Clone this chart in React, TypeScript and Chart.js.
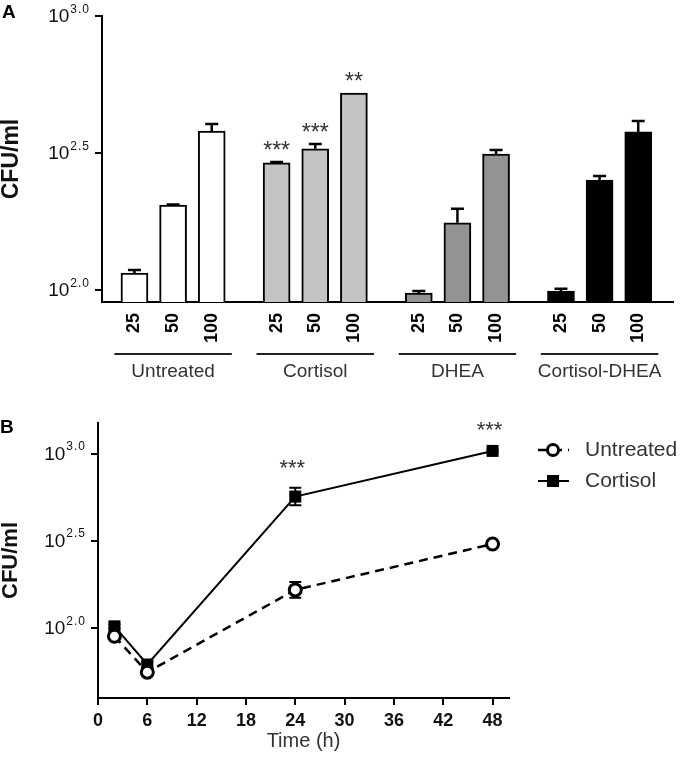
import React, { useEffect, useRef } from 'react';
import { Chart, registerables } from 'chart.js';

Chart.register(...registerables);

const FONT = '"Liberation Sans", Arial, Helvetica, sans-serif';

// ---------- Panel A data (log10 CFU/ml) ----------
const GROUPS = ['Untreated', 'Cortisol', 'DHEA', 'Cortisol-DHEA'];
const DOSES = ['25', '50', '100'];
const UNTREATED_A = [2.062, 2.31, 2.58];
const CORTISOL_A = [2.464, 2.515, 2.719];
const DHEA_A = [1.989, 2.245, 2.496];
const COMBO_A = [1.996, 2.401, 2.577];
const UNTREATED_A_ERR = [0.011, 0.002, 0.026];
const CORTISOL_A_ERR = [0.003, 0.018, 0.0];
const DHEA_A_ERR = [0.007, 0.051, 0.015];
const COMBO_A_ERR = [0.008, 0.015, 0.04];
const UNTREATED_A_STARS = ['', '', ''];
const CORTISOL_A_STARS = ['***', '***', '**'];
const DHEA_A_STARS = ['', '', ''];
const COMBO_A_STARS = ['', '', ''];
const Y_TICKS_A = [2.0, 2.5, 3.0];

// ---------- Panel B data (log10 CFU/ml) ----------
const TIME_H = [2, 6, 24, 48];
const UNTREATED_B = [1.954, 1.748, 2.22, 2.483];
const UNTREATED_B_ERR = [0.01, 0.01, 0.045, 0.01];
const CORTISOL_B = [2.011, 1.792, 2.755, 3.017];
const CORTISOL_B_ERR = [0.012, 0.015, 0.05, 0.008];
const CORTISOL_B_STARS = ['', '', '***', '***'];
const UNTREATED_B_STARS = ['', '', '', ''];
const X_TICKS_B = [0, 6, 12, 18, 24, 30, 36, 42, 48];
const Y_TICKS_B = [2.0, 2.5, 3.0];

const GROUP_STEP = 3.68; // spacing between group starts, in bar slots

function drawPow(ctx: CanvasRenderingContext2D, xRight: number, y: number, exp: string, baseSize: number, supSize: number, rise: number) {
  ctx.save();
  ctx.fillStyle = '#111';
  ctx.textBaseline = 'middle';
  ctx.textAlign = 'left';
  (ctx as any).letterSpacing = '1px';
  ctx.font = `${supSize}px ${FONT}`;
  const supW = ctx.measureText(exp).width;
  (ctx as any).letterSpacing = '0px';
  ctx.font = `${baseSize}px ${FONT}`;
  const baseW = ctx.measureText('10').width;
  const x0 = xRight - supW - baseW - 1;
  ctx.fillText('10', x0, y + 1);
  (ctx as any).letterSpacing = '1px';
  ctx.font = `${supSize}px ${FONT}`;
  ctx.fillText(exp, x0 + baseW + 1, y - rise);
  ctx.restore();
}

function drawErrBar(ctx: CanvasRenderingContext2D, x: number, y1: number, y2: number, cap: number, lw: number) {
  ctx.save();
  ctx.strokeStyle = '#000';
  ctx.lineWidth = lw;
  ctx.beginPath();
  ctx.moveTo(x, y1);
  ctx.lineTo(x, y2);
  ctx.moveTo(x - cap / 2, y2);
  ctx.lineTo(x + cap / 2, y2);
  ctx.stroke();
  ctx.restore();
}

function makeConfigA(): any {
  const values = [UNTREATED_A, CORTISOL_A, DHEA_A, COMBO_A];
  const errs = [UNTREATED_A_ERR, CORTISOL_A_ERR, DHEA_A_ERR, COMBO_A_ERR];
  const stars = [UNTREATED_A_STARS, CORTISOL_A_STARS, DHEA_A_STARS, COMBO_A_STARS];
  const fills = ['#ffffff', '#c4c4c4', '#939393', '#000000'];
  const positions: number[] = [];
  GROUPS.forEach((_, gi) => DOSES.forEach((__, di) => positions.push(gi * GROUP_STEP + di)));

  const panelPlugin = {
    id: 'panelA',
    afterDatasetsDraw(chart: any) {
      const ctx = chart.ctx as CanvasRenderingContext2D;
      const y = chart.scales.y;
      chart.data.datasets.forEach((ds: any, i: number) => {
        const meta = chart.getDatasetMeta(i);
        meta.data.forEach((el: any, j: number) => {
          const v = ds.data[j].y;
          const e = ds.errors[j];
          const yTop = y.getPixelForValue(v + e);
          if (e > 0) drawErrBar(ctx, el.x, el.y, yTop, 13, 2.5);
          const s = ds.stars[j];
          if (s) {
            ctx.save();
            ctx.font = `23px ${FONT}`;
            ctx.fillStyle = '#333';
            ctx.textAlign = 'center';
            ctx.textBaseline = 'alphabetic';
            ctx.fillText(s, el.x, Math.min(yTop, el.y) - 4);
            ctx.restore();
          }
        });
      });
    },
    afterDraw(chart: any) {
      const ctx = chart.ctx as CanvasRenderingContext2D;
      const xs = chart.scales.x;
      const ys = chart.scales.y;
      const area = chart.chartArea;
      // y tick labels with superscript exponent
      ys.ticks.forEach((t: any) => {
        drawPow(ctx, area.left - 12, ys.getPixelForValue(t.value), t.value.toFixed(1), 19, 12, 6);
      });
      // group brackets and names
      GROUPS.forEach((g, gi) => {
        const c = gi * GROUP_STEP + 1;
        const x1 = xs.getPixelForValue(c - 1.52);
        const x2 = xs.getPixelForValue(c + 1.52);
        ctx.save();
        ctx.strokeStyle = '#222';
        ctx.lineWidth = 2;
        ctx.beginPath();
        ctx.moveTo(x1, area.bottom + 52);
        ctx.lineTo(x2, area.bottom + 52);
        ctx.stroke();
        ctx.font = `19px ${FONT}`;
        ctx.fillStyle = '#333';
        ctx.textAlign = 'center';
        ctx.textBaseline = 'middle';
        ctx.fillText(g, xs.getPixelForValue(c), area.bottom + 70);
        ctx.restore();
      });
      // panel letter
      ctx.save();
      ctx.font = `bold 19px ${FONT}`;
      ctx.fillStyle = '#000';
      ctx.textBaseline = 'top';
      ctx.textAlign = 'left';
      ctx.fillText('A', 2, 3);
      ctx.restore();
    },
  };

  return {
    type: 'bar',
    data: {
      datasets: GROUPS.map((g, gi) => ({
        label: g,
        data: values[gi].map((v, di) => ({ x: gi * GROUP_STEP + di, y: v })),
        backgroundColor: fills[gi],
        borderColor: '#000',
        borderWidth: 2,
        borderSkipped: false,
        barThickness: 27,
        grouped: false,
        errors: errs[gi],
        stars: stars[gi],
      })),
    },
    options: {
      responsive: false,
      animation: false,
      events: [],
      devicePixelRatio: 1,
      layout: { padding: { left: 0, right: 7, top: 16, bottom: 0 } },
      plugins: { legend: { display: false }, tooltip: { enabled: false } },
      scales: {
        x: {
          type: 'linear',
          offset: false,
          min: -0.84,
          max: 13.94,
          afterBuildTicks: (s: any) => {
            s.ticks = positions.map((v) => ({ value: v }));
          },
          afterFit: (s: any) => {
            s.height = 118;
          },
          ticks: {
            autoSkip: false,
            minRotation: 90,
            maxRotation: 90,
            padding: 11,
            color: '#000',
            font: { family: FONT, size: 18, weight: 'bold' },
            callback: (_v: any, i: number) => DOSES[i % DOSES.length],
          },
          grid: { display: false, drawTicks: false, offset: false },
          border: { display: true, color: '#000', width: 2 },
        },
        y: {
          type: 'linear',
          min: 1.956,
          max: 3.0,
          afterBuildTicks: (s: any) => {
            s.ticks = Y_TICKS_A.map((v) => ({ value: v }));
          },
          afterFit: (s: any) => {
            s.width = 102;
          },
          ticks: { display: false },
          grid: { drawOnChartArea: false, drawTicks: true, tickLength: 7, color: '#000', lineWidth: 2 },
          border: { display: true, color: '#000', width: 2 },
          title: {
            display: true,
            text: 'CFU/ml',
            color: '#111',
            font: { family: FONT, size: 23, weight: 'bold', lineHeight: 1 },
            padding: { top: 0, bottom: 0 },
          },
        },
      },
    },
    plugins: [panelPlugin],
  };
}

function makeConfigB(): any {
  const panelPlugin = {
    id: 'panelB',
    beforeDatasetsDraw(chart: any) {
      const ctx = chart.ctx as CanvasRenderingContext2D;
      const ys = chart.scales.y;
      chart.data.datasets.forEach((ds: any, i: number) => {
        const meta = chart.getDatasetMeta(i);
        meta.data.forEach((el: any, j: number) => {
          const v = ds.data[j].y;
          const e = ds.errors[j];
          if (e <= 0) return;
          const yT = ys.getPixelForValue(v + e);
          const yB = ys.getPixelForValue(v - e);
          drawErrBar(ctx, el.x, el.y, yT, 12, 2);
          drawErrBar(ctx, el.x, el.y, yB, 12, 2);
        });
      });
    },
    afterDraw(chart: any) {
      const ctx = chart.ctx as CanvasRenderingContext2D;
      const ys = chart.scales.y;
      const area = chart.chartArea;
      ys.ticks.forEach((t: any) => {
        drawPow(ctx, area.left - 12, ys.getPixelForValue(t.value), t.value.toFixed(1), 19, 12, 7);
      });
      // stars
      chart.data.datasets.forEach((ds: any, i: number) => {
        const meta = chart.getDatasetMeta(i);
        meta.data.forEach((el: any, j: number) => {
          const s = ds.stars[j];
          if (!s) return;
          const yT = ys.getPixelForValue(ds.data[j].y + ds.errors[j]);
          ctx.save();
          ctx.font = `22px ${FONT}`;
          ctx.fillStyle = '#333';
          ctx.textAlign = 'center';
          ctx.textBaseline = 'alphabetic';
          ctx.fillText(s, el.x - 3, yT - 13);
          ctx.restore();
        });
      });
      // legend
      chart.data.datasets.forEach((ds: any, i: number) => {
        const cy = 40 + 31 * i;
        const x1 = 538;
        const x2 = 569;
        const mx = 553;
        ctx.save();
        ctx.strokeStyle = '#000';
        ctx.lineWidth = ds.borderWidth;
        ctx.setLineDash(ds.borderDash || []);
        ctx.beginPath();
        ctx.moveTo(x1, cy);
        ctx.lineTo(x2, cy);
        ctx.stroke();
        ctx.setLineDash([]);
        if (ds.pointStyle === 'circle') {
          ctx.fillStyle = '#fff';
          ctx.lineWidth = 3;
          ctx.beginPath();
          ctx.arc(mx, cy, 5.5, 0, Math.PI * 2);
          ctx.fill();
          ctx.stroke();
        } else {
          ctx.fillStyle = '#000';
          ctx.fillRect(mx - 6, cy - 6, 12, 12);
        }
        ctx.font = `21px ${FONT}`;
        ctx.fillStyle = '#333';
        ctx.textAlign = 'left';
        ctx.textBaseline = 'middle';
        ctx.fillText(ds.label, 585, cy);
        ctx.restore();
      });
      ctx.save();
      ctx.font = `bold 19px ${FONT}`;
      ctx.fillStyle = '#000';
      ctx.textBaseline = 'top';
      ctx.textAlign = 'left';
      ctx.fillText('B', 0, 8);
      ctx.restore();
    },
  };

  return {
    type: 'line',
    data: {
      datasets: [
        {
          label: 'Untreated',
          data: TIME_H.map((t, i) => ({ x: t, y: UNTREATED_B[i] })),
          errors: UNTREATED_B_ERR,
          stars: UNTREATED_B_STARS,
          borderColor: '#000',
          borderWidth: 2.5,
          borderDash: [9, 6],
          pointStyle: 'circle',
          pointRadius: 6,
          pointBorderWidth: 3,
          pointBackgroundColor: '#fff',
          pointBorderColor: '#000',
          tension: 0,
          fill: false,
        },
        {
          label: 'Cortisol',
          data: TIME_H.map((t, i) => ({ x: t, y: CORTISOL_B[i] })),
          errors: CORTISOL_B_ERR,
          stars: CORTISOL_B_STARS,
          borderColor: '#000',
          borderWidth: 2,
          pointStyle: 'rect',
          pointRadius: 8.5,
          pointBorderWidth: 0,
          pointBackgroundColor: '#000',
          pointBorderColor: '#000',
          tension: 0,
          fill: false,
        },
      ],
    },
    options: {
      responsive: false,
      animation: false,
      events: [],
      devicePixelRatio: 1,
      layout: { padding: { left: 0, right: 171, top: 13, bottom: 0 } },
      plugins: { legend: { display: false }, tooltip: { enabled: false } },
      scales: {
        x: {
          type: 'linear',
          min: 0,
          max: 50,
          afterBuildTicks: (s: any) => {
            s.ticks = X_TICKS_B.map((v) => ({ value: v }));
          },
          afterFit: (s: any) => {
            s.height = 64;
          },
          ticks: {
            autoSkip: false,
            maxRotation: 0,
            padding: 5,
            color: '#111',
            font: { family: FONT, size: 18, weight: 'bold' },
          },
          grid: { drawOnChartArea: false, drawTicks: true, tickLength: 7, color: '#000', lineWidth: 2 },
          border: { display: true, color: '#000', width: 2 },
          title: {
            display: true,
            text: 'Time (h)',
            color: '#333',
            font: { family: FONT, size: 20, lineHeight: 1 },
            padding: { top: 0, bottom: 11 },
          },
        },
        y: {
          type: 'linear',
          min: 1.6,
          max: 3.177,
          afterBuildTicks: (s: any) => {
            s.ticks = Y_TICKS_B.map((v) => ({ value: v }));
          },
          afterFit: (s: any) => {
            s.width = 98;
          },
          ticks: { display: false },
          grid: { drawOnChartArea: false, drawTicks: true, tickLength: 7, color: '#000', lineWidth: 2 },
          border: { display: true, color: '#000', width: 2 },
          title: {
            display: true,
            text: 'CFU/ml',
            color: '#111',
            font: { family: FONT, size: 22, weight: 'bold', lineHeight: 1 },
            padding: { top: 0, bottom: 0 },
          },
        },
      },
    },
    plugins: [panelPlugin],
  };
}

export default function App() {
  const refA = useRef<HTMLCanvasElement>(null);
  const refB = useRef<HTMLCanvasElement>(null);
  useEffect(() => {
    const a = new Chart(refA.current as HTMLCanvasElement, makeConfigA());
    const b = new Chart(refB.current as HTMLCanvasElement, makeConfigB());
    return () => {
      a.destroy();
      b.destroy();
    };
  }, []);
  return (
    <div style={{ position: 'absolute', left: 0, top: 0, width: 680, height: 762, background: '#fff' }}>
      <canvas ref={refA} width={680} height={420} style={{ position: 'absolute', left: 0, top: 0 }} />
      <canvas ref={refB} width={680} height={352} style={{ position: 'absolute', left: 0, top: 410 }} />
    </div>
  );
}
